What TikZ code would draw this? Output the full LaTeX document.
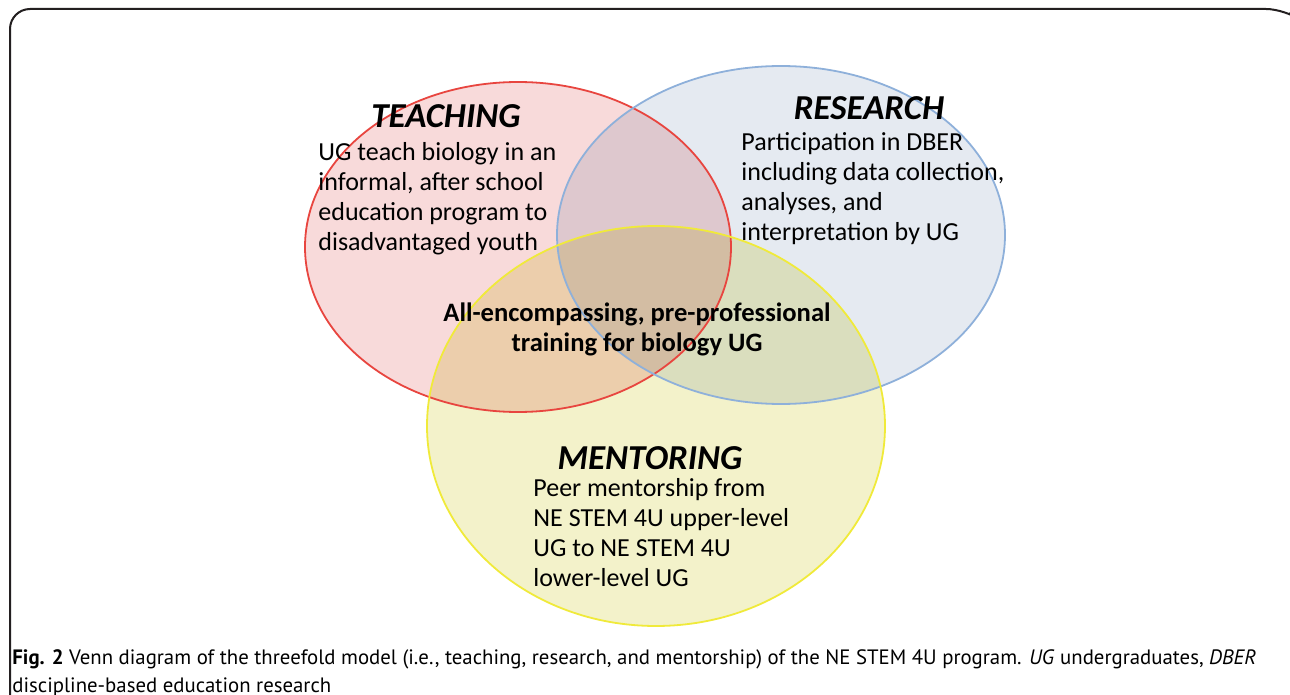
\documentclass[tikz,border=0pt]{standalone}
\usepackage{fontspec}
\setmainfont{Carlito}
\newfontfamily\capfont{PT Sans}
\usepackage{xcolor}
\definecolor{teachline}{HTML}{E8453F}
\definecolor{teachfill}{HTML}{F8DADA}
\definecolor{researchline}{HTML}{8EB0DA}
\definecolor{researchfill}{HTML}{E5EAF1}
\definecolor{mentorline}{HTML}{F0EA3A}
\definecolor{mentorfill}{HTML}{F3F2CA}
\definecolor{frameline}{HTML}{231F20}

\begin{document}
\begin{tikzpicture}[x=0.5pt,y=-0.5pt,
    head/.style={font=\fontsize{17.5}{20}\selectfont\bfseries\itshape},
    body/.style={font=\fontsize{13}{15}\selectfont, align=left, anchor=north west, inner sep=0pt},
    core/.style={font=\fontsize{13.3}{15}\selectfont\bfseries, align=center, inner sep=0pt},
    venn/.style={line width=0.9pt}]
  \useasboundingbox (0,0) rectangle (1290,695);
  \begin{scope}[blend mode=multiply]
    \fill[teachfill] (518,247) ellipse [x radius=213, y radius=165];
    \fill[researchfill] (781,235) ellipse [x radius=224, y radius=169];
    \fill[mentorfill] (656,426) ellipse [x radius=229, y radius=200];
  \end{scope}
  \draw[venn, teachline] (518,247) ellipse [x radius=213, y radius=165];
  \draw[venn, researchline] (781,235) ellipse [x radius=224, y radius=169];
  \draw[venn, mentorline] (656,426) ellipse [x radius=229, y radius=200];

  \node[head] (teaching) at (446,116) {TEACHING};
  \node[body] (teachtext) at (318,142) {UG teach biology in an\\ informal, after school\\ education program to\\ disadvantaged youth};
  \node[head] (research) at (869,108) {RESEARCH};
  \node[body] (researchtext) at (741,132) {Participation in DBER\\ including data collection,\\ analyses, and\\ interpretation by UG};
  \node[core] (core) at (637,329) {All-encompassing, pre-professional\\ training for biology UG};
  \node[head] (mentoring) at (650,458) {MENTORING};
  \node[body] (mentortext) at (533,478) {Peer mentorship from\\ NE STEM 4U upper-level\\ UG to NE STEM 4U\\ lower-level UG};

  \node[font=\capfont\fontsize{10.4}{14}\selectfont, align=left, anchor=north west, inner sep=0pt] (caption) at (12,649)
    {\textbf{Fig. 2} Venn diagram of the threefold model (i.e., teaching, research, and mentorship) of the NE STEM 4U program. \textit{UG} undergraduates, \textit{DBER}\\ discipline-based education research};

  \draw[frameline, line width=1pt, rounded corners=10] (10,695) -- (10,9) -- (1286,9) -- (1290,12);
\end{tikzpicture}
\end{document}
